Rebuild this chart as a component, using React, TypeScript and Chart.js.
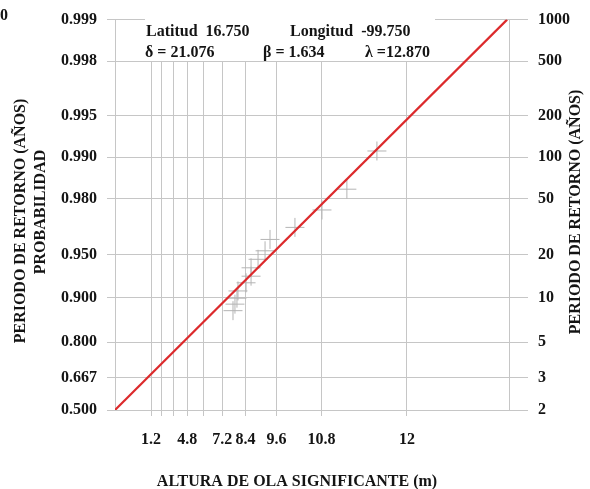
import React, { useEffect, useRef } from 'react';
import { Chart, LinearScale, registerables } from 'chart.js';

// ---------- data ----------
const STATION_LAT = '16.750';
const STATION_LON = '-99.750';
const PARAM_DELTA = '21.076';
const PARAM_BETA = '1.634';
const PARAM_LAMBDA = '12.870';

// x axis: significant wave height (m)
const X_TICKS = [1.2, 2.4, 3.6, 4.8, 6.0, 7.2, 8.4, 9.6, 10.8, 12];
const X_TICK_LABELS = ['1.2', '', '', '4.8', '', '7.2', '8.4', '9.6', '10.8', '12'];
const X_MIN = -3.945;
const X_MAX = 12.561;
const X_BOUND = 12.87;

// y axis: non-exceedance probability / return period
const PROB_TICKS = [0.5, 0.667, 0.8, 0.9, 0.95, 0.98, 0.99, 0.995, 0.998, 0.999];
const PROB_LABELS = ['0.500', '0.667', '0.800', '0.900', '0.950', '0.980', '0.990', '0.995', '0.998', '0.999'];
const RETURN_PERIODS = [2, 3, 5, 10, 20, 50, 100, 200, 500, 1000];
const Y_MIN = 0.5;
const Y_MAX = 0.999;

// observed sample (plotting positions)
const OBS_HEIGHT = [11.69, 11.27, 10.81, 10.16, 9.38, 9.2, 8.93, 8.64, 8.64, 8.42, 8.04, 7.99, 7.89, 7.79];
const OBS_PROB = [0.991, 0.983, 0.976, 0.968, 0.961, 0.953, 0.946, 0.938, 0.929, 0.921, 0.91, 0.899, 0.889, 0.877];

// fitted distribution line
const FIT_HEIGHT = [-3.945, 12.555];
const FIT_PROB = [0.5, 0.999];

// ---------- styles ----------
const FONT = "'Liberation Serif', 'Times New Roman', Times, serif";
const GRID = '#c6c6c6';
const INK = '#141414';
const RED = '#dc2a2c';
const CROSS = '#b4b4b4';

// ---------- custom probability-paper scales ----------
class TransformScale extends LinearScale {
  static id = 'transformBase';
  static defaults = {};
  fwd(v: number) { return v; }
  inv(u: number) { return u; }
  buildTicks() { return []; }
  getPixelForValue(value: number) {
    if (value === null || value === undefined || isNaN(value as any)) return NaN;
    const a = this.fwd(this.min), b = this.fwd(this.max);
    return this.getPixelForDecimal((this.fwd(value) - a) / (b - a));
  }
  getValueForPixel(pixel: number) {
    const a = this.fwd(this.min), b = this.fwd(this.max);
    return this.inv(a + this.getDecimalForPixel(pixel) * (b - a));
  }
}
class WaveHeightScale extends TransformScale {
  static id = 'waveHeight';
  static defaults = {};
  fwd(v: number) { return -Math.log(X_BOUND - v); }
  inv(u: number) { return X_BOUND - Math.exp(-u); }
}
class GumbelScale extends TransformScale {
  static id = 'gumbel';
  static defaults = {};
  fwd(p: number) { return -Math.log(-Math.log(p)); }
  inv(u: number) { return Math.exp(-Math.exp(-u)); }
}

Chart.register(...registerables, WaveHeightScale, GumbelScale);

const annotations = {
  id: 'annotations',
  beforeDatasetsDraw(chart: any) {
    const ctx = chart.ctx;
    ctx.save();
    ctx.fillStyle = '#ffffff';
    ctx.fillRect(145, 17, 290, 44);
    ctx.restore();
  },
  afterDraw(chart: any) {
    const ctx = chart.ctx;
    ctx.save();
    ctx.fillStyle = INK;
    ctx.font = `bold 16px ${FONT}`;
    ctx.textAlign = 'left';
    ctx.textBaseline = 'alphabetic';
    ctx.fillText(`Latitud  ${STATION_LAT}`, 146, 36);
    ctx.fillText(`Longitud  ${STATION_LON}`, 290, 36);
    ctx.fillText(`δ = ${PARAM_DELTA}`, 145, 57);
    ctx.fillText(`β = ${PARAM_BETA}`, 263, 57);
    ctx.fillText(`λ =${PARAM_LAMBDA}`, 365, 57);

    const vtext = (s: string, x: number, y: number) => {
      ctx.save();
      ctx.translate(x, y);
      ctx.rotate(-Math.PI / 2);
      ctx.textAlign = 'center';
      ctx.textBaseline = 'middle';
      ctx.fillText(s, 0, 0);
      ctx.restore();
    };
    vtext('PERIODO DE RETORNO (AÑOS)', 21, 221);
    vtext('PROBABILIDAD', 41, 212);
    vtext('PERIODO DE RETORNO (AÑOS)', 576, 212);

    ctx.textAlign = 'center';
    ctx.textBaseline = 'middle';
    ctx.fillText('ALTURA DE OLA SIGNIFICANTE (m)', 297, 482);

    ctx.textAlign = 'right';
    ctx.fillText('1000', 8, 16);
    ctx.restore();
  },
};

export default function App() {
  const ref = useRef<HTMLCanvasElement | null>(null);

  useEffect(() => {
    if (!ref.current) return;
    const tickFont = { family: FONT, size: 16, weight: 'bold' as const };
    const chart = new Chart(ref.current, {
      type: 'scatter',
      data: {
        datasets: [
          {
            type: 'line',
            label: 'Ajuste',
            data: FIT_HEIGHT.map((x, i) => ({ x, y: FIT_PROB[i] })),
            borderColor: RED,
            borderWidth: 2.2,
            pointRadius: 0,
            fill: false,
            order: 0,
          } as any,
          {
            type: 'scatter',
            label: 'Datos',
            data: OBS_HEIGHT.map((x, i) => ({ x, y: OBS_PROB[i] })),
            pointStyle: 'cross',
            pointRadius: 9.5,
            borderColor: CROSS,
            backgroundColor: CROSS,
            borderWidth: 1,
            order: 1,
          } as any,
        ],
      },
      options: {
        responsive: false,
        animation: false,
        devicePixelRatio: 1,
        layout: { padding: { top: 16, left: 0, right: 0, bottom: 0 } },
        plugins: { legend: { display: false }, tooltip: { enabled: false } },
        scales: {
          x: {
            type: 'waveHeight' as any,
            position: 'bottom',
            min: X_MIN,
            max: X_MAX,
            afterBuildTicks: (s: any) => { s.ticks = X_TICKS.map((v) => ({ value: v })); },
            afterFit: (s: any) => { s.height = 79; },
            ticks: {
              autoSkip: false,
              maxRotation: 0,
              font: tickFont,
              color: INK,
              padding: 14,
              callback: (_v: any, i: number) => X_TICK_LABELS[i],
            },
            grid: { color: GRID, lineWidth: 1, tickLength: 6, drawTicks: true },
            border: { display: false },
          } as any,
          y: {
            type: 'gumbel' as any,
            position: 'left',
            min: Y_MIN,
            max: Y_MAX,
            afterBuildTicks: (s: any) => { s.ticks = PROB_TICKS.map((v) => ({ value: v })); },
            afterFit: (s: any) => { s.width = 115; },
            ticks: {
              autoSkip: false,
              font: tickFont,
              color: INK,
              padding: 10,
              callback: (_v: any, i: number) => PROB_LABELS[i],
            },
            grid: { color: GRID, lineWidth: 1, tickLength: 8 },
            border: { display: true, color: GRID, width: 1 },
          } as any,
          y2: {
            type: 'gumbel' as any,
            position: 'right',
            min: Y_MIN,
            max: Y_MAX,
            afterBuildTicks: (s: any) => { s.ticks = RETURN_PERIODS.map((t) => ({ value: 1 - 1 / t })); },
            afterFit: (s: any) => { s.width = 81; },
            ticks: {
              autoSkip: false,
              font: tickFont,
              color: INK,
              padding: 10,
              callback: (_v: any, i: number) => String(RETURN_PERIODS[i]),
            },
            grid: { color: GRID, lineWidth: 1, tickLength: 19, drawOnChartArea: false },
            border: { display: true, color: GRID, width: 1 },
          } as any,
        },
      },
      plugins: [annotations],
    });
    return () => chart.destroy();
  }, []);

  return (
    <div style={{ position: 'absolute', left: 0, top: 0, width: 590, height: 489, background: '#fff' }}>
      <canvas ref={ref} width={590} height={489} style={{ display: 'block' }} />
    </div>
  );
}
